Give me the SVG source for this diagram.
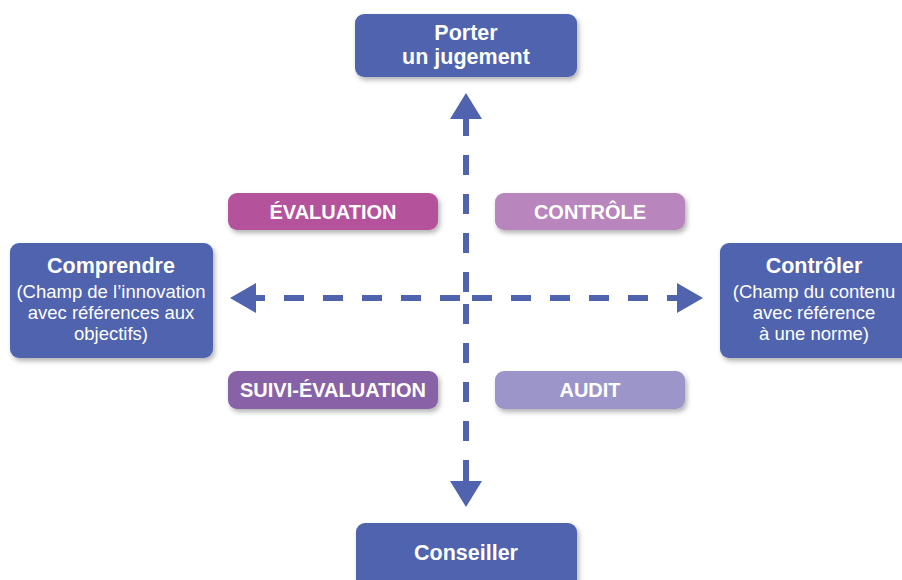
<svg xmlns="http://www.w3.org/2000/svg" width="902" height="580" viewBox="0 0 902 580">
<defs>
<filter id="sh" x="-10%" y="-20%" width="130%" height="150%">
<feDropShadow dx="2" dy="3" stdDeviation="2.5" flood-color="#000" flood-opacity="0.3"/>
</filter>
<style>
.node{fill:#4f63ae;filter:url(#sh)}
.t{font-family:"Liberation Sans",Arial,sans-serif;fill:#fff;text-anchor:middle}
.b{font-weight:bold;font-size:21.5px}
.s{font-size:18.5px}
.lb{font-weight:bold;font-size:20px}
.dash{stroke:#4f63ae;stroke-width:6;fill:none;stroke-dasharray:0 6 20 13}
.head{fill:#4f63ae}
</style>
</defs>
<rect width="902" height="580" fill="#fff"/>
<g id="connectors">
<path class="dash" d="M466,298 L466,118"/>
<path class="dash" d="M466,298 L466,482"/>
<path class="dash" d="M466,298 L255,298"/>
<path class="dash" d="M466,298 L678,298"/>
<line x1="466" y1="118" x2="466" y2="130" stroke="#4f63ae" stroke-width="6"/>
<line x1="466" y1="470" x2="466" y2="483" stroke="#4f63ae" stroke-width="6"/>
<line x1="254" y1="298" x2="264" y2="298" stroke="#4f63ae" stroke-width="6"/>
<line x1="668" y1="298" x2="679" y2="298" stroke="#4f63ae" stroke-width="6"/>
<polygon class="head" points="466,93 482,119 450,119"/>
<polygon class="head" points="466,507 482,481 450,481"/>
<polygon class="head" points="230,298 256,283 256,313"/>
<polygon class="head" points="703,298 677,283 677,313"/>
</g>
<g id="porter">
<rect class="node" x="355" y="14" width="222" height="63" rx="9"/>
<text class="t b" x="466" y="40">Porter</text>
<text class="t b" x="466" y="64">un jugement</text>
</g>
<g id="comprendre">
<rect class="node" x="10" y="243" width="203" height="115" rx="9"/>
<text class="t b" x="111" y="273">Comprendre</text>
<text class="t s" x="111" y="298">(Champ de l’innovation</text>
<text class="t s" x="111" y="319">avec références aux</text>
<text class="t s" x="111" y="340">objectifs)</text>
</g>
<g id="controler">
<rect class="node" x="720" y="243" width="195" height="115" rx="9"/>
<text class="t b" x="814" y="273">Contrôler</text>
<text class="t s" x="814" y="298">(Champ du contenu</text>
<text class="t s" x="814" y="319">avec référence</text>
<text class="t s" x="814" y="340">à une norme)</text>
</g>
<g id="conseiller">
<rect class="node" x="356" y="523" width="221" height="70" rx="9"/>
<text class="t b" x="466" y="560">Conseiller</text>
</g>
<g id="evaluation">
<rect x="228" y="193" width="210" height="37" rx="9" fill="#b4529b" filter="url(#sh)"/>
<text class="t lb" x="333" y="219">ÉVALUATION</text>
</g>
<g id="controle">
<rect x="495" y="193" width="190" height="37" rx="9" fill="#b985bd" filter="url(#sh)"/>
<text class="t lb" x="590" y="219">CONTRÔLE</text>
</g>
<g id="suivi">
<rect x="228" y="371" width="210" height="38" rx="9" fill="#8862a7" filter="url(#sh)"/>
<text class="t lb" x="333" y="397">SUIVI-ÉVALUATION</text>
</g>
<g id="audit">
<rect x="495" y="371" width="190" height="38" rx="9" fill="#9c95ca" filter="url(#sh)"/>
<text class="t lb" x="590" y="397">AUDIT</text>
</g>
</svg>
